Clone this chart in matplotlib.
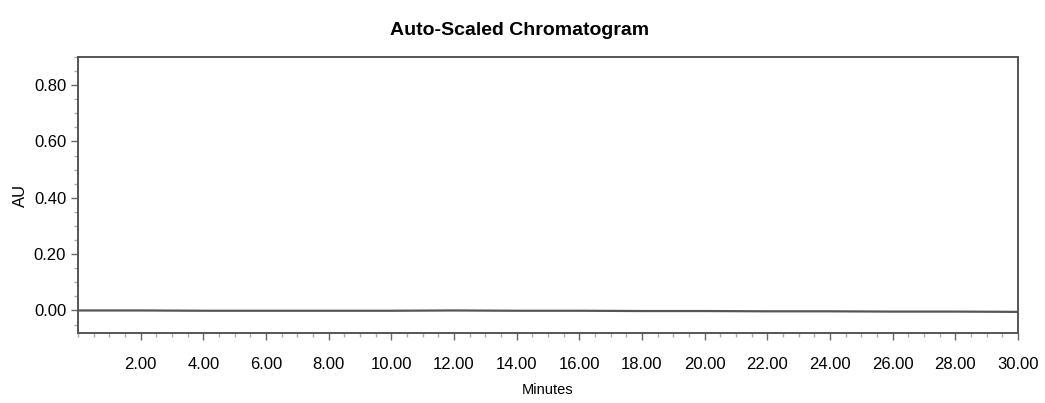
import matplotlib
matplotlib.use("Agg")
import matplotlib.pyplot as plt
from matplotlib.ticker import MultipleLocator, FormatStrFormatter

# baseline of the chromatogram
minutes = [0.0, 2.0, 4.0, 6.0, 8.0, 10.0, 12.0, 14.0, 16.0, 18.0, 20.0, 22.0, 24.0, 26.0, 28.0, 30.0]
au = [0.000, 0.000, -0.001, -0.001, -0.001, -0.001, 0.000, -0.001, -0.001, -0.002, -0.002, -0.003, -0.003, -0.004, -0.004, -0.005]

plt.rcParams['font.family'] = ['Liberation Sans', 'DejaVu Sans']

fig = plt.figure(figsize=(10.45, 4.03), dpi=100)
ax = fig.add_axes([0.0746, 0.1737, 0.8994, 0.6849])

ax.plot(minutes, au, color='#555555', linewidth=1.6)

ax.set_xlim(0, 30)
ax.set_ylim(-0.08, 0.90)

ax.xaxis.set_major_locator(MultipleLocator(2))
ax.xaxis.set_minor_locator(MultipleLocator(0.5))
ax.yaxis.set_major_locator(MultipleLocator(0.2))
ax.yaxis.set_minor_locator(MultipleLocator(0.05))
ax.xaxis.set_major_formatter(FormatStrFormatter('%.2f'))
ax.yaxis.set_major_formatter(FormatStrFormatter('%.2f'))

# no 0.00 label on x
ax.set_xticks([t for t in range(2, 31, 2)])

ax.tick_params(axis='both', which='major', labelsize=12, color='#666666', length=5, width=1)
ax.tick_params(axis='both', which='minor', color='#aaaaaa', length=3, width=1)
ax.tick_params(axis='x', pad=12)

for s in ax.spines.values():
    s.set_color('#555555')
    s.set_linewidth(1.4)

ax.set_title('Auto-Scaled Chromatogram', fontsize=14, fontweight='bold', pad=16, x=0.47)
ax.set_xlabel('Minutes', fontsize=10.5, labelpad=8)
ax.set_ylabel('AU', fontsize=12, labelpad=4)

plt.savefig('out.png', dpi=100)
